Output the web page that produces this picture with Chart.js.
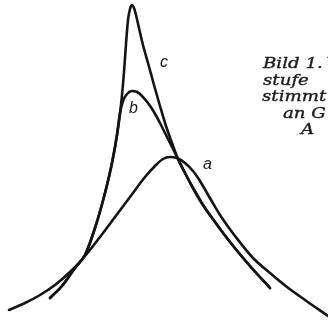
<!DOCTYPE html>
<html>
<head>
<meta charset="utf-8">
<script src="https://cdn.jsdelivr.net/npm/chart.js@4.4.1/dist/chart.umd.min.js"></script>
<style>
  html, body { margin: 0; padding: 0; background: #fff; }
  #wrap { position: relative; width: 328px; height: 324px; }
</style>
</head>
<body>
<div id="wrap"><canvas id="resonance"></canvas></div>
<script>
// Resonance curves of the three tuning cases (detuning vs. amplitude, arbitrary units)
const freqA = [9, 25, 40, 55, 70, 85, 100, 115, 130, 145, 155, 163, 170, 177, 185, 193, 200, 207, 214, 222, 235, 253, 270, 287, 305, 328];
const ampA  = [14, 21, 29, 39, 52, 68, 87, 107, 127, 147, 158, 165, 167, 166, 161, 153, 143, 131, 119, 106, 88, 66, 51, 37, 24, 8];

const freqB = [50, 62, 75, 85, 95, 105, 112, 117, 120, 123, 127, 132, 137, 142, 148, 154, 160, 166, 172, 178, 185, 193, 203, 215, 230, 250, 270];
const ampB  = [26, 38, 56, 69, 96, 131, 161, 189, 211, 223, 230, 233, 232, 228, 221, 212, 201, 189, 177, 165, 151, 136, 119, 102, 82, 58, 36];

const freqC = [50, 62, 75, 85, 95, 105, 112, 117, 121, 124, 126, 128, 130, 132, 134, 136, 139, 143, 148, 154, 160, 166, 172, 178, 185, 193, 203, 215, 230, 250, 270];
const ampC  = [26, 38, 56, 69, 96, 131, 161, 189, 219, 252, 280, 304, 315, 319, 316, 309, 296, 279, 261, 239, 218, 198, 181, 165, 151, 136, 119, 102, 82, 58, 36];

const curveNames = ['a', 'b', 'c'];
const captionLines = ['Bild 1.\u2009Ve', 'stufe', 'stimmt', 'an G', 'A'];

function toPoints(xs, ys) {
  return xs.map((x, i) => ({ x, y: ys[i] }));
}

// curve letters, anchored in data space next to each line
const tagPos = { a: [203, 159], b: [129, 215], c: [160, 261] };

const annotate = {
  id: 'annotate',
  afterDraw(chart) {
    const { ctx, scales } = chart;
    ctx.save();
    ctx.fillStyle = '#1a1a1a';
    ctx.font = 'italic 16px "Liberation Sans", sans-serif';
    ctx.textAlign = 'left';
    ctx.textBaseline = 'middle';
    curveNames.forEach(n => {
      const [x, y] = tagPos[n];
      ctx.fillText(n, scales.x.getPixelForValue(x), scales.y.getPixelForValue(y));
    });
    ctx.restore();

    // caption block in a wide italic face, runs off the right edge
    ctx.save();
    ctx.fillStyle = '#1c1c1c';
    ctx.strokeStyle = '#1c1c1c';
    ctx.lineWidth = 0.35;
    ctx.font = 'italic 14px "DejaVu Serif", serif';
    ctx.textBaseline = 'alphabetic';
    const widen = 1.3;
    const indent = [0, 0, -1, 20, 38];
    captionLines.forEach((t, i) => {
      const x = (263 + indent[i]) / widen;
      const y = 68 + i * 16.5;
      ctx.save();
      ctx.scale(widen, 1);
      ctx.fillText(t, x, y);
      ctx.strokeText(t, x, y);
      ctx.restore();
    });
    ctx.restore();
  },
};

const lineStyle = {
  borderColor: '#141414',
  borderWidth: 2.6,
  pointRadius: 0,
  fill: false,
  cubicInterpolationMode: 'monotone',
  borderCapStyle: 'round',
  borderJoinStyle: 'round',
};

new Chart(document.getElementById('resonance'), {
  type: 'line',
  data: {
    datasets: [
      { label: 'a', data: toPoints(freqA, ampA), ...lineStyle },
      { label: 'b', data: toPoints(freqB, ampB), ...lineStyle },
      { label: 'c', data: toPoints(freqC, ampC), ...lineStyle },
    ],
  },
  options: {
    responsive: true,
    maintainAspectRatio: false,
    animation: false,
    layout: { padding: 0 },
    plugins: { legend: { display: false }, tooltip: { enabled: false } },
    scales: {
      x: { type: 'linear', min: 0, max: 328, display: false },
      y: { type: 'linear', min: 0, max: 324, display: false },
    },
  },
  plugins: [annotate],
});
</script>
</body>
</html>
